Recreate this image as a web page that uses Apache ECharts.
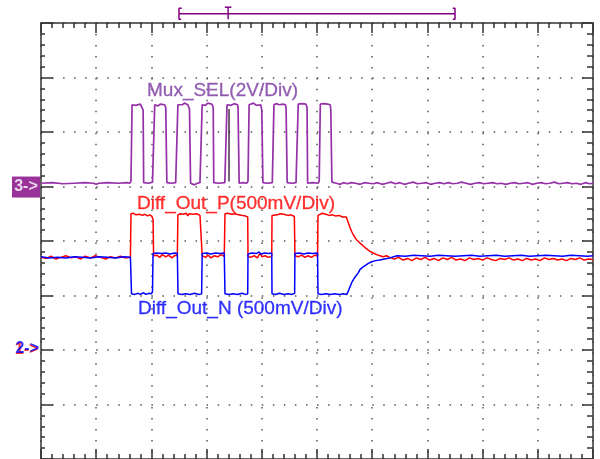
<!DOCTYPE html>
<html><head><meta charset="utf-8">
<script src="https://cdn.jsdelivr.net/npm/echarts@6/dist/echarts.min.js"></script>
<style>html,body{margin:0;padding:0;background:#fff}#c{width:600px;height:459px}</style>
</head><body><div id="c"></div>
<script>
// Values in screen divisions: time 0..10 div, voltage -4..4 div (0 = centre line)
const muxSel = [
 [0,1.06],[0.2,1.07],[0.4,1.05],[0.6,1.06],[0.8,1.07],[0.95,1.06],[1.0,1.04],[1.05,1.06],[1.2,1.07],[1.4,1.06],[1.55,1.07],[1.61,1.06],
 [1.63,1.10],[1.65,2.50],[1.68,2.53],[1.71,2.49],[1.74,2.52],[1.80,2.51],[1.83,2.50],
 [1.85,2.40],[1.86,1.07],[1.95,1.06],[2.02,1.08],
 [2.04,1.10],[2.06,2.50],[2.09,2.52],[2.12,2.48],[2.16,2.51],[2.24,2.50],
 [2.26,2.45],[2.28,1.07],[2.36,1.06],[2.44,1.07],
 [2.46,1.10],[2.48,2.50],[2.51,2.52],[2.56,2.50],[2.60,2.53],[2.66,2.50],
 [2.69,2.42],[2.71,1.06],[2.78,1.03],[2.83,1.06],[2.88,1.07],
 [2.90,1.10],[2.92,2.50],[2.95,2.52],[2.98,2.49],[3.02,2.53],[3.10,2.51],
 [3.12,2.44],[3.13,1.07],[3.22,1.06],[3.33,1.07],
 [3.35,1.10],[3.37,2.50],[3.40,2.52],[3.44,2.49],[3.50,2.52],[3.56,2.50],
 [3.57,2.44],[3.59,1.06],[3.66,1.07],[3.73,1.06],
 [3.75,1.10],[3.77,2.50],[3.80,2.51],[3.85,2.53],[3.90,2.49],[3.98,2.50],
 [4.00,2.40],[4.02,1.07],[4.10,1.06],[4.19,1.07],
 [4.20,1.10],[4.22,2.50],[4.26,2.52],[4.32,2.50],[4.38,2.51],[4.43,2.50],
 [4.44,2.42],[4.46,1.07],[4.55,1.06],[4.62,1.07],
 [4.64,1.10],[4.66,2.51],[4.72,2.52],[4.80,2.51],
 [4.82,2.45],[4.83,1.06],[4.92,1.07],[5.02,1.06],
 [5.04,1.10],[5.06,2.51],[5.12,2.52],[5.20,2.51],[5.24,2.50],
 [5.25,2.40],[5.27,1.08],
 [5.35,1.06],[5.42,1.04],[5.48,1.07],[5.55,1.05],[5.62,1.07],[5.70,1.06],[5.78,1.04],[5.86,1.07],[5.94,1.06],[6.02,1.05],
 [6.10,1.07],[6.18,1.04],[6.26,1.06],[6.34,1.08],[6.42,1.05],[6.50,1.07],[6.58,1.04],[6.66,1.06],[6.74,1.08],[6.82,1.05],
 [6.90,1.06],[6.98,1.07],[7.06,1.04],[7.14,1.06],[7.22,1.07],[7.30,1.05],[7.38,1.07],[7.46,1.05],[7.54,1.06],[7.62,1.08],
 [7.70,1.06],[7.78,1.04],[7.86,1.06],[7.94,1.07],[8.02,1.05],[8.10,1.06],[8.18,1.07],[8.26,1.05],[8.34,1.06],[8.42,1.04],
 [8.50,1.06],[8.58,1.07],[8.66,1.05],[8.74,1.06],[8.82,1.07],[8.90,1.04],[8.98,1.06],[9.06,1.07],[9.14,1.05],[9.22,1.06],
 [9.30,1.08],[9.38,1.05],[9.46,1.06],[9.54,1.07],[9.62,1.05],[9.70,1.06],[9.78,1.04],[9.86,1.07],[9.94,1.05],[10,1.06]
];
const diffOutP = [
 [0,-0.30],[0.10,-0.32],[0.18,-0.28],[0.27,-0.33],[0.36,-0.30],[0.45,-0.27],[0.55,-0.31],[0.63,-0.29],[0.72,-0.33],[0.80,-0.28],
 [0.90,-0.31],[0.98,-0.27],[1.08,-0.30],[1.17,-0.33],[1.26,-0.29],[1.35,-0.31],[1.44,-0.28],[1.52,-0.31],[1.62,-0.30],
 [1.63,0.50],[1.67,0.51],[1.72,0.48],[1.78,0.49],[1.84,0.47],[1.88,0.49],[1.93,0.46],[1.97,0.48],[2.01,0.45],
 [2.03,0.40],[2.04,-0.27],
 [2.10,-0.26],[2.15,-0.30],[2.20,-0.25],[2.26,-0.29],[2.31,-0.26],[2.37,-0.31],[2.43,-0.26],[2.47,-0.27],
 [2.48,0.48],[2.52,0.50],[2.58,0.49],[2.63,0.51],[2.66,0.46],[2.68,0.50],[2.75,0.49],[2.82,0.50],[2.88,0.47],[2.91,0.49],
 [2.92,-0.27],
 [2.98,-0.30],[3.03,-0.26],[3.08,-0.31],[3.14,-0.27],[3.20,-0.29],[3.26,-0.25],[3.32,-0.28],
 [3.333,0.50],[3.38,0.51],[3.45,0.49],[3.52,0.50],[3.58,0.48],[3.65,0.47],[3.70,0.46],[3.745,0.44],
 [3.75,-0.28],
 [3.80,-0.30],[3.86,-0.27],[3.92,-0.31],[3.97,-0.22],[4.00,-0.29],[4.06,-0.27],[4.12,-0.30],[4.18,-0.28],
 [4.185,0.47],[4.22,0.49],[4.28,0.48],[4.33,0.50],[4.40,0.49],[4.47,0.47],[4.53,0.48],[4.59,0.45],
 [4.60,-0.27],
 [4.66,-0.29],[4.72,-0.26],[4.78,-0.30],[4.84,-0.27],[4.90,-0.30],[4.96,-0.26],[5.01,-0.28],
 [5.018,0.47],[5.04,0.50],[5.10,0.51],[5.16,0.49],[5.22,0.47],[5.28,0.48],[5.34,0.46],[5.40,0.47],[5.46,0.44],[5.53,0.44],
 [5.57,0.33],[5.60,0.24],[5.63,0.17],[5.66,0.11],[5.69,0.06],[5.72,0.02],[5.78,-0.04],[5.81,-0.07],[5.87,-0.12],[5.90,-0.15],
 [5.96,-0.19],[6.02,-0.22],[6.08,-0.25],[6.14,-0.27],[6.20,-0.29],[6.26,-0.27],[6.32,-0.30],
 [6.40,-0.33],[6.48,-0.30],[6.56,-0.35],[6.64,-0.32],[6.72,-0.36],[6.80,-0.31],[6.88,-0.34],[6.96,-0.30],[7.04,-0.35],[7.12,-0.32],
 [7.20,-0.36],[7.28,-0.31],[7.36,-0.34],[7.44,-0.30],[7.52,-0.35],[7.60,-0.33],[7.68,-0.36],[7.76,-0.31],[7.84,-0.34],[7.92,-0.32],
 [8.00,-0.35],[8.08,-0.31],[8.16,-0.34],[8.24,-0.36],[8.32,-0.32],[8.40,-0.34],[8.48,-0.31],[8.56,-0.35],[8.64,-0.33],[8.72,-0.36],
 [8.80,-0.32],[8.88,-0.35],[8.96,-0.33],[9.04,-0.36],[9.12,-0.31],[9.20,-0.34],[9.28,-0.32],[9.36,-0.35],[9.44,-0.33],[9.52,-0.36],
 [9.60,-0.32],[9.68,-0.34],[9.76,-0.31],[9.84,-0.35],[9.92,-0.33],[10,-0.34]
];
const diffOutN = [
 [0,-0.29],[0.15,-0.31],[0.30,-0.30],[0.45,-0.31],[0.60,-0.29],[0.75,-0.30],[0.90,-0.31],[1.05,-0.29],[1.20,-0.30],[1.35,-0.31],[1.50,-0.29],[1.62,-0.30],
 [1.64,-0.97],[1.70,-0.98],[1.76,-0.96],[1.80,-0.98],[1.86,-0.95],[1.90,-0.98],[1.96,-0.96],[2.00,-0.97],[2.02,-0.93],
 [2.03,-0.23],[2.10,-0.22],[2.18,-0.23],[2.26,-0.22],[2.34,-0.24],[2.42,-0.22],[2.47,-0.23],
 [2.482,-0.97],[2.55,-0.98],[2.62,-0.97],[2.70,-0.98],[2.78,-0.96],[2.86,-0.98],[2.91,-0.97],
 [2.92,-0.23],[3.00,-0.22],[3.08,-0.24],[3.16,-0.22],[3.24,-0.23],[3.32,-0.22],
 [3.333,-0.97],[3.40,-0.98],[3.48,-0.97],[3.56,-0.98],[3.64,-0.96],[3.70,-0.98],[3.745,-0.97],
 [3.75,-0.24],[3.82,-0.22],[3.90,-0.23],[3.95,-0.20],[3.98,-0.24],[4.05,-0.22],[4.12,-0.23],[4.18,-0.22],
 [4.185,-0.97],[4.25,-0.98],[4.32,-0.96],[4.40,-0.98],[4.48,-0.97],[4.55,-0.98],[4.595,-0.96],
 [4.60,-0.23],[4.68,-0.22],[4.76,-0.24],[4.84,-0.22],[4.92,-0.23],[5.01,-0.22],
 [5.018,-0.97],[5.08,-0.98],[5.16,-0.97],[5.24,-0.98],[5.32,-0.97],[5.40,-0.98],[5.48,-0.97],[5.54,-0.98],
 [5.57,-0.91],[5.63,-0.76],[5.69,-0.66],[5.75,-0.58],[5.78,-0.52],[5.83,-0.48],[5.87,-0.45],[5.93,-0.41],[5.99,-0.38],[6.06,-0.36],
 [6.14,-0.35],[6.22,-0.33],[6.32,-0.31],
 [6.45,-0.27],[6.60,-0.28],[6.75,-0.26],[6.90,-0.27],[7.05,-0.28],[7.20,-0.26],[7.35,-0.27],[7.50,-0.28],[7.65,-0.27],[7.80,-0.26],
 [7.95,-0.28],[8.10,-0.27],[8.25,-0.26],[8.40,-0.28],[8.55,-0.27],[8.70,-0.26],[8.85,-0.28],[9.00,-0.27],[9.15,-0.26],[9.30,-0.27],
 [9.45,-0.28],[9.60,-0.26],[9.75,-0.27],[9.90,-0.28],[10,-0.27]
];
const cursorLine = [[3.406,1.09],[3.406,2.42]];
// Trigger / window marker above the screen
const bracketLeft = [[2.55,4.27],[2.5,4.27],[2.5,4.07],[2.54,4.07]];
const bracketLine = [[2.5,4.17],[7.5,4.17]];
const bracketRight = [[7.46,4.27],[7.5,4.27],[7.5,4.07],[7.46,4.07]];
const trigBar = [[3.33,4.29],[3.45,4.29]];
const trigStem = [[3.39,4.29],[3.39,4.07]];
// Channel ground markers
const ch3Marker = [-0.272, 0.99];
const ch1Marker = [-0.262, -2.0];
const ch2Marker = [-0.25, -1.98];
// Trace labels
const labelMux = ['Mux_SEL(2V/Div)', 1.92, 2.76];
const labelP = ['Diff_Out_P(500mV/Div)', 1.739, 0.69];
const labelN = ['Diff_Out_N (500mV/Div)', 1.757, -1.24];

const FONT = '"Liberation Sans", Arial, sans-serif';
const border = {color:'#333', width:1.5};
function axisCommon(extra){
  return Object.assign({
    type:'value', axisLabel:{show:false},
    axisLine:{show:true, onZero:false, lineStyle:border},
    axisTick:{show:true, inside:true, lineStyle:border},
    minorTick:{show:true, splitNumber:5, lineStyle:border},
    splitLine:{show:false}
  }, extra);
}
function trace(data, color, z, w){
  return {type:'line', data, symbol:'none', showSymbol:false, silent:true, z,
    lineStyle:{color, width:w||1.5}, clip:false, animation:false};
}
function textMark(lbl, color){
  return {type:'scatter', data:[[lbl[1], lbl[2]]], symbolSize:1, itemStyle:{color:'rgba(0,0,0,0)'}, z:20,
    label:{show:true, position:'inside', align:'left', verticalAlign:'middle', formatter:lbl[0],
      color, fontSize:19, fontFamily:FONT, textBorderColor:color, textBorderWidth:0.3}};
}
const chart = echarts.init(document.getElementById('c'), null, {renderer:'canvas'});
chart.setOption({
  animation:false, backgroundColor:'#fff',
  grid:{left:41, top:23, width:552, height:439, containLabel:false},
  xAxis:[
    axisCommon({position:'bottom', min:0, max:10, interval:1,
      axisTick:{show:true, inside:true, length:10, lineStyle:border},
      minorTick:{show:true, splitNumber:5, length:5, lineStyle:border},
      splitLine:{show:true, lineStyle:{color:'#555', width:1.5, type:[1.5,9.475]}}}),
    axisCommon({position:'top', min:0, max:10, interval:1,
      axisTick:{show:true, inside:true, length:10, lineStyle:border},
      minorTick:{show:true, splitNumber:5, length:5, lineStyle:border}})
  ],
  yAxis:[
    axisCommon({position:'left', min:-4, max:4, interval:1,
      axisTick:{show:true, inside:true, length:12, lineStyle:border},
      minorTick:{show:true, splitNumber:5, length:4, lineStyle:border},
      splitLine:{show:true, lineStyle:{color:'#555', width:1.5, type:[1.5,9.54]}}}),
    axisCommon({position:'right', min:-4, max:4, interval:1,
      axisTick:{show:true, inside:true, length:11, lineStyle:border},
      minorTick:{show:true, splitNumber:5, length:6, lineStyle:border}})
  ],
  series:[
    trace(diffOutP, '#ff0000', 5),
    trace(diffOutN, '#0000ff', 6),
    trace(muxSel, '#9430a8', 7, 1.7),
    trace(cursorLine, '#2a1030', 8, 1.3),
    trace(bracketLeft, '#800080', 8, 1.5),
    trace(bracketLine, '#800080', 8, 1.5),
    trace(bracketRight, '#800080', 8, 1.5),
    trace(trigBar, '#800080', 8, 1.5),
    trace(trigStem, '#800080', 8, 1.5),
    {type:'scatter', data:[ch3Marker], symbol:'rect', symbolSize:[28,21], clip:false, z:20,
      itemStyle:{color:'#800080'},
      label:{show:true, position:'inside', formatter:'3->', color:'#fff', fontSize:16, fontWeight:'bold', fontFamily:FONT}},
    {type:'scatter', data:[ch1Marker], symbolSize:1, clip:false, z:20, itemStyle:{color:'rgba(0,0,0,0)'},
      label:{show:true, position:'inside', formatter:'1->', color:'#ff0000', fontSize:16, fontWeight:'bold', fontFamily:FONT}},
    {type:'scatter', data:[ch2Marker], symbolSize:1, clip:false, z:21, itemStyle:{color:'rgba(0,0,0,0)'},
      label:{show:true, position:'inside', formatter:'2->', color:'#0000ff', fontSize:16, fontWeight:'bold', fontFamily:FONT}},
    textMark(labelMux, '#7a38a0'),
    textMark(labelP, '#ff0000'),
    textMark(labelN, '#0000ff')
  ]
});
</script></body></html>
